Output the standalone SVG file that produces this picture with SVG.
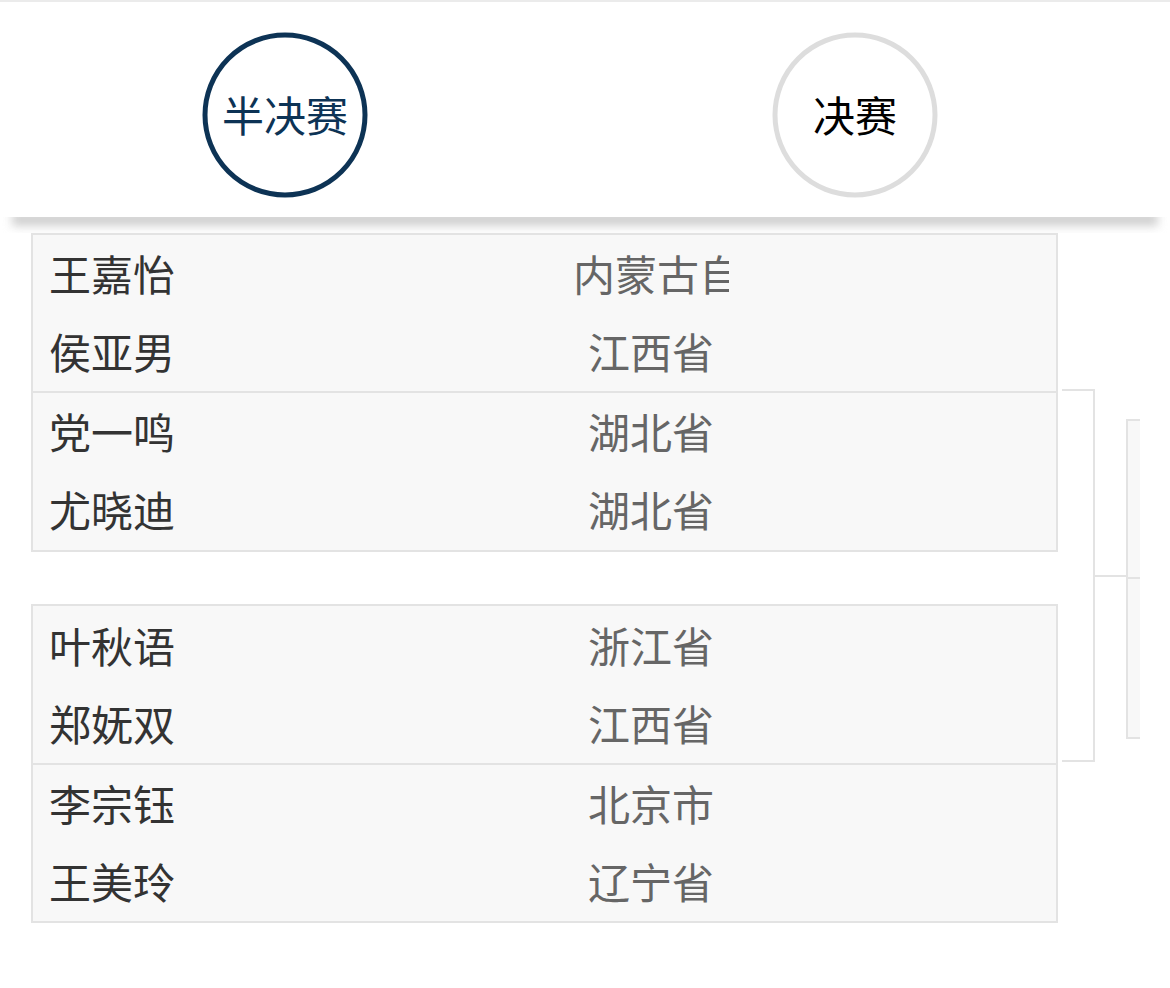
<svg xmlns="http://www.w3.org/2000/svg" width="1170" height="988" viewBox="0 0 1170 988">
<style>
.name{font-family:"Noto Sans CJK SC","Noto Sans",sans-serif;font-size:42px;fill:#333333;dominant-baseline:central}
.prov{font-family:"Noto Sans CJK SC","Noto Sans",sans-serif;font-size:42px;fill:#666666;dominant-baseline:central;text-anchor:middle}
.box{fill:#f8f8f8;stroke:#e3e3e3;stroke-width:2}
.div{stroke:#e3e3e3;stroke-width:2}
.conn{fill:none;stroke:#e3e3e3;stroke-width:2}
.tab{font-family:"Noto Sans CJK SC","Noto Sans",sans-serif;font-size:42px;text-anchor:middle;dominant-baseline:central}
</style>
<defs>
<filter id="sh" x="-5%" y="-50%" width="110%" height="200%"><feGaussianBlur stdDeviation="5"/></filter>
<clipPath id="c1"><rect x="31" y="233" width="698" height="160"/></clipPath>
</defs>
<rect width="1170" height="988" fill="#ffffff"/>
<rect x="0" y="0" width="1170" height="2" fill="#ebebeb"/>
<g id="header">
<rect x="12" y="212" width="1146" height="14" fill="#d0d0d0" filter="url(#sh)"/>
<rect x="0" y="2" width="1170" height="215" fill="#ffffff"/>
</g>
<g id="tab-semifinal">
<circle cx="285" cy="115" r="80" fill="#ffffff" stroke="#0d3355" stroke-width="5"/>
<text class="tab" x="285" y="113" fill="#0d3355">半决赛</text>
</g>
<g id="tab-final">
<circle cx="855" cy="115" r="80" fill="#ffffff" stroke="#dddddd" stroke-width="5"/>
<text class="tab" x="855" y="113" fill="#000000">决赛</text>
</g>
<g id="match1">
<rect class="box" x="32" y="234" width="1025" height="317"/>
<line class="div" x1="32" y1="392" x2="1057" y2="392"/>
<text class="name" x="49" y="272">王嘉怡</text>
<text class="prov" x="657" y="272" clip-path="url(#c1)">内蒙古自</text>
<text class="name" x="49" y="350">侯亚男</text>
<text class="prov" x="651" y="350">江西省</text>
<text class="name" x="49" y="430">党一鸣</text>
<text class="prov" x="651" y="430">湖北省</text>
<text class="name" x="49" y="508">尤晓迪</text>
<text class="prov" x="651" y="508">湖北省</text>
</g>
<g id="match2">
<rect class="box" x="32" y="605" width="1025" height="317"/>
<line class="div" x1="32" y1="764" x2="1057" y2="764"/>
<text class="name" x="49" y="644">叶秋语</text>
<text class="prov" x="651" y="644">浙江省</text>
<text class="name" x="49" y="722">郑妩双</text>
<text class="prov" x="651" y="722">江西省</text>
<text class="name" x="49" y="802">李宗钰</text>
<text class="prov" x="651" y="802">北京市</text>
<text class="name" x="49" y="880">王美玲</text>
<text class="prov" x="651" y="880">辽宁省</text>
</g>
<g id="final-match">
<rect x="1127" y="420" width="13" height="318" fill="#f8f8f8"/>
<path class="conn" d="M1140 420 H1127 V738 H1140 M1127 578 H1140"/>
</g>
<g id="connectors">
<path class="conn" d="M1062 390 H1094 V761 H1062 M1094 576 H1127"/>
</g>
</svg>
